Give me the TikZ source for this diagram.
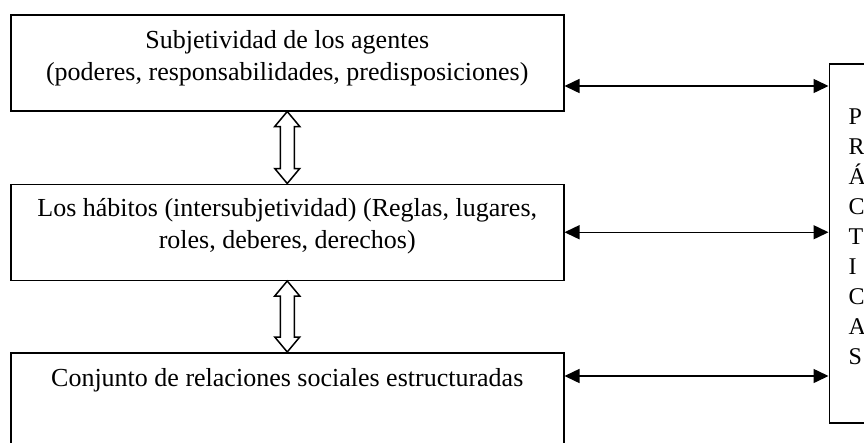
\documentclass[tikz,border=0pt]{standalone}
\usepackage{fontspec}
\setmainfont{Liberation Serif}
\usetikzlibrary{calc,arrows.meta,positioning}

\tikzset{
  box/.style={draw, line width=1.5pt, rectangle, minimum width=553pt, minimum height=96pt, inner sep=0pt},
  boxtext/.style={anchor=base, align=center, inner sep=0pt, font=\fontsize{26pt}{32pt}\selectfont},
  link/.style={line width=1.5pt, {Triangle[length=15pt,width=14pt]}-{Triangle[length=15pt,width=14pt]}},
  hollow/.style={line width=1.5pt, line join=miter}
}

% hollow two-headed arrow from the bottom of one box to the top of the next
\newcommand{\hollowlink}[2]{%
  \draw[hollow] let \p1=(#1), \p2=(#2) in
    (\x1,\y1) -- ({\x1+12.5pt},{\y1-15pt}) -- ({\x1+7pt},{\y1-15pt}) -- ({\x1+7pt},{\y2+15pt})
    -- ({\x1+12.5pt},{\y2+15pt}) -- (\x1,\y2) -- ({\x1-12.5pt},{\y2+15pt}) -- ({\x1-7pt},{\y2+15pt})
    -- ({\x1-7pt},{\y1-15pt}) -- ({\x1-12.5pt},{\y1-15pt}) -- cycle;}

\begin{document}
\begin{tikzpicture}
  \useasboundingbox (0,0) rectangle (864pt,-442pt);
  \fill[white] (0,0) rectangle (864pt,-442pt);

  % left column
  \node[box, anchor=north west] (subj) at (10pt,-14pt) {};
  \node[box, below=72pt of subj] (habit) {};
  \node[box, below=71pt of habit] (conj) {};

  % base anchor = baseline of the last line
  \node[boxtext] (subjtxt) at ($(subj.north)+(0,-66pt)$) {Subjetividad de los agentes\\(poderes, responsabilidades, predisposiciones)};
  \node[boxtext] (habittxt) at ($(habit.north)+(0,-65pt)$) {Los hábitos (intersubjetividad) (Reglas, lugares,\\roles, deberes, derechos)};
  \node[boxtext] (conjtxt) at ($(conj.north)+(0,-34pt)$) {Conjunto de relaciones sociales estructuradas};

  % right column
  \node[box, minimum width=60pt, minimum height=359pt, anchor=north west] (praxis) at ($(subj.north east)+(264pt,-49pt)$) {};
  \node[anchor=north west, align=left, inner sep=0pt, font=\fontsize{24pt}{30pt}\selectfont] (praxistxt) at ($(praxis.north west)+(20pt,-46pt)$) {P\\R\\Á\\C\\T\\I\\C\\A\\S};

  % connectors
  \hollowlink{subj.south}{habit.north}
  \hollowlink{habit.south}{conj.north}

  \coordinate (l1) at ($(subj.north east)+(0,-72pt)$);
  \coordinate (l3) at ($(conj.north east)+(0,-24pt)$);
  \draw[link] (l1) -- (l1 -| praxis.west);
  \draw[link] (habit.east) -- (habit.east -| praxis.west);
  \draw[link] (l3) -- (l3 -| praxis.west);
\end{tikzpicture}
\end{document}
